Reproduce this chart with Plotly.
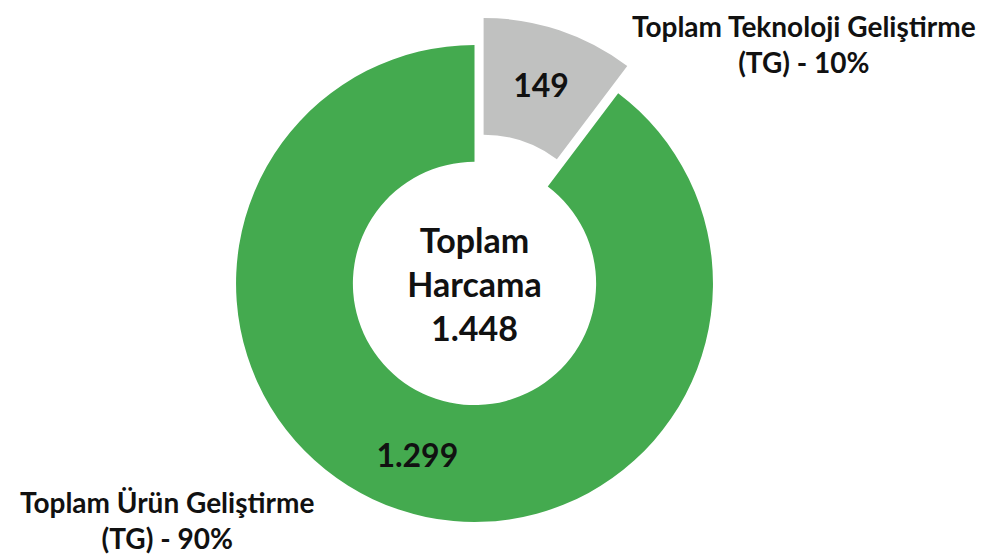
import plotly.graph_objects as go

categories = ["Toplam Teknoloji Geliştirme (TG)", "Toplam Ürün Geliştirme (TG)"]
values = [149, 1299]
value_labels = ["149", "1.299"]
total_label = "1.448"
colors = ["#C0C1C0", "#44AA4F"]

total = sum(values)
pcts = [round(v / total * 100) for v in values]

FONT = "Lato"
TXT = "#111111"

fig = go.Figure()
fig.add_trace(go.Pie(
    labels=categories,
    values=values,
    text=[f"<b>{t}</b>" for t in value_labels],
    textinfo="text",
    textposition="inside",
    insidetextorientation="horizontal",
    textfont=dict(family=FONT, size=32, color=TXT),
    sort=False,
    direction="clockwise",
    rotation=0,
    hole=0.51,
    pull=[0.12, 0],
    marker=dict(colors=colors, line=dict(color="white", width=0)),
    title=dict(text="<b>Toplam<br>Harcama<br>" + total_label + "</b>", position="middle center",
               font=dict(family=FONT, size=34, color=TXT)),
    domain=dict(x=[0.2016, 0.7418], y=[0.0259, 0.9849]),
    showlegend=False,
))

fig.add_annotation(
    text=f"<b>{categories[0].replace(' (TG)', '')}<br>(TG) - {pcts[0]}%</b>",
    x=796 / 989, y=1.0, xref="paper", yref="paper",
    xanchor="center", yanchor="top", borderpad=0,
    showarrow=False, font=dict(family=FONT, size=28, color=TXT),
    align="center",
)

fig.add_annotation(
    text=f"<b>{categories[1].replace(' (TG)', '')}<br>(TG) - {pcts[1]}%</b>",
    x=159 / 989, y=0.014, xref="paper", yref="paper",
    xanchor="center", yanchor="bottom",
    showarrow=False, font=dict(family=FONT, size=28, color=TXT),
    align="center",
)

fig.update_layout(
    width=989, height=557,
    margin=dict(l=0, r=0, t=0, b=0),
    paper_bgcolor="white", plot_bgcolor="white",
)

fig.write_html("out.html")
